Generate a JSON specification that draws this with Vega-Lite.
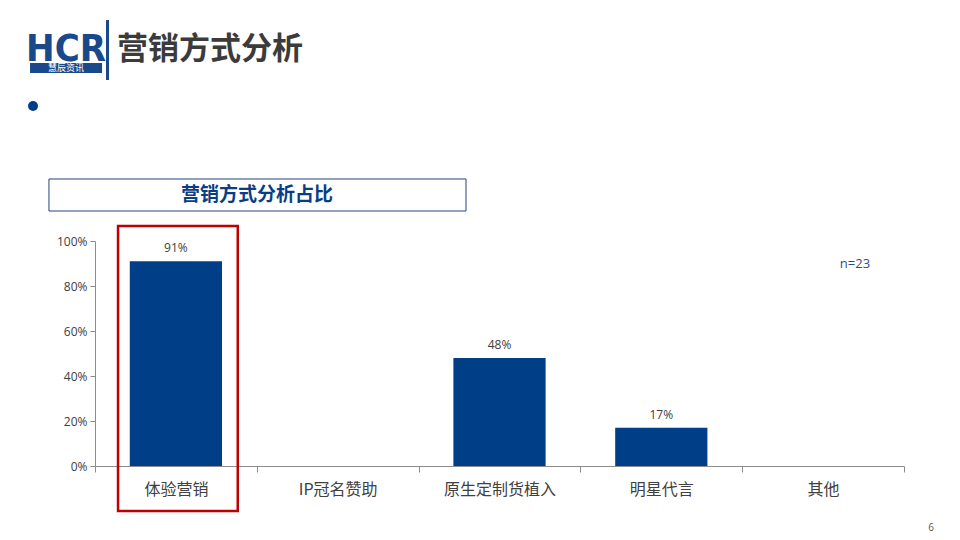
{
  "$schema": "https://vega.github.io/schema/vega-lite/v6.json",
  "width": 809,
  "height": 225,
  "autosize": {"type": "none"},
  "padding": {"left": 95, "top": 241, "right": 56, "bottom": 74},
  "background": "white",
  "config": {"view": {"stroke": null}, "font": "Noto Sans CJK SC"},
  "layer": [
    {
      "data": {
        "values": [
          {"category": "体验营销", "value": 0.91},
          {"category": "IP冠名赞助", "value": 0},
          {"category": "原生定制货植入", "value": 0.48},
          {"category": "明星代言", "value": 0.17},
          {"category": "其他", "value": 0}
        ]
      },
      "layer": [
        {
          "mark": {"type": "bar", "color": "#003F87", "width": {"band": 0.57}},
          "encoding": {
            "x": {
              "field": "category", "type": "nominal",
              "scale": {"domain": ["体验营销", "IP冠名赞助", "原生定制货植入", "明星代言", "其他"], "paddingInner": 0, "paddingOuter": 0},
              "axis": {"title": null, "labelAngle": 0, "labelFontSize": 16, "labelColor": "#404040", "labelPadding": 9, "tickSize": 6, "tickColor": "#8c8c8c", "domainColor": "#8c8c8c", "tickBand": "extent", "labelFont": "Noto Sans CJK SC"}
            },
            "y": {
              "field": "value", "type": "quantitative",
              "scale": {"domain": [0, 1]},
              "axis": {"title": null, "format": ".0%", "values": [0, 0.2, 0.4, 0.6, 0.8, 1], "labelFontSize": 12, "labelColor": "#404040", "labelFont": "Open Sans", "tickSize": 5, "labelPadding": 3, "tickColor": "#8c8c8c", "domainColor": "#8c8c8c", "grid": false}
            }
          }
        },
        {
          "transform": [{"filter": "datum.value > 0"}],
          "mark": {"type": "text", "baseline": "bottom", "dy": -6, "fontSize": 12, "color": "#404040", "font": "Open Sans"},
          "encoding": {
            "x": {"field": "category", "type": "nominal"},
            "y": {"field": "value", "type": "quantitative"},
            "text": {"field": "value", "type": "quantitative", "format": ".0%"}
          }
        },
        {
          "transform": [{"filter": "datum.category == '体验营销'"}],
          "mark": {"type": "bar", "fill": "transparent", "stroke": "#C00000", "strokeWidth": 2.5, "width": {"band": 0.74}, "xOffset": 2},
          "encoding": {
            "x": {"field": "category", "type": "nominal"},
            "y": {"datum": 1.067},
            "y2": {"datum": -0.2}
          }
        }
      ]
    },
    {
      "data": {"values": [{}]},
      "layer": [
        {
          "mark": {"type": "rect", "fill": "white", "stroke": "#24427A", "strokeWidth": 1},
          "encoding": {
            "x": {"datum": -0.0569, "type": "quantitative", "scale": {"domain": [0, 1]}, "axis": null},
            "x2": {"datum": 0.4586},
            "y": {"datum": 1.2756, "type": "quantitative", "scale": {"domain": [0, 1]}, "axis": null},
            "y2": {"datum": 1.1333}
          }
        },
        {
          "mark": {"type": "text", "text": "营销方式分析占比", "fontSize": 19, "fontWeight": "bold", "color": "#0B3D85", "align": "center", "baseline": "middle"},
          "encoding": {
            "x": {"datum": 0.2002, "type": "quantitative", "scale": {"domain": [0, 1]}, "axis": null},
            "y": {"datum": 1.2044, "type": "quantitative", "scale": {"domain": [0, 1]}, "axis": null}
          }
        },
        {
          "mark": {"type": "text", "text": "n=23", "fontSize": 13, "color": "#1F4E99", "font": "Open Sans", "align": "center", "baseline": "middle"},
          "encoding": {
            "x": {"datum": 0.9394, "type": "quantitative", "scale": {"domain": [0, 1]}, "axis": null},
            "y": {"datum": 0.898, "type": "quantitative", "scale": {"domain": [0, 1]}, "axis": null}
          }
        },
        {
          "mark": {"type": "text", "text": "6", "fontSize": 10, "color": "#595959", "font": "Open Sans", "align": "center", "baseline": "middle"},
          "encoding": {
            "x": {"datum": 1.0334, "type": "quantitative", "scale": {"domain": [0, 1]}, "axis": null},
            "y": {"datum": -0.2756, "type": "quantitative", "scale": {"domain": [0, 1]}, "axis": null}
          }
        },
        {
          "mark": {"type": "circle", "size": 100, "color": "#003F87", "opacity": 1},
          "encoding": {
            "x": {"datum": -0.0766, "type": "quantitative", "scale": {"domain": [0, 1]}, "axis": null},
            "y": {"datum": 1.6, "type": "quantitative", "scale": {"domain": [0, 1]}, "axis": null}
          }
        },
        {
          "mark": {"type": "text", "text": "营销方式分析", "fontSize": 31, "fontWeight": "bold", "color": "#3B3B3B", "align": "left", "baseline": "middle"},
          "encoding": {
            "x": {"datum": 0.0272, "type": "quantitative", "scale": {"domain": [0, 1]}, "axis": null},
            "y": {"datum": 1.849, "type": "quantitative", "scale": {"domain": [0, 1]}, "axis": null}
          }
        },
        {
          "mark": {"type": "text", "text": "HCR", "fontSize": 38, "fontWeight": "bold", "font": "Liberation Sans Narrow, DejaVu Sans Condensed, sans-serif", "color": "#19498A", "align": "center", "baseline": "alphabetic"},
          "encoding": {
            "x": {"datum": -0.0358, "type": "quantitative", "scale": {"domain": [0, 1]}, "axis": null},
            "y": {"datum": 1.8, "type": "quantitative", "scale": {"domain": [0, 1]}, "axis": null}
          }
        },
        {
          "mark": {"type": "rect", "fill": "#19498A"},
          "encoding": {
            "x": {"datum": -0.0803, "type": "quantitative", "scale": {"domain": [0, 1]}, "axis": null},
            "x2": {"datum": 0.0087},
            "y": {"datum": 1.791, "type": "quantitative", "scale": {"domain": [0, 1]}, "axis": null},
            "y2": {"datum": 1.7467}
          }
        },
        {
          "mark": {"type": "text", "text": "慧辰资讯", "fontSize": 9, "color": "white", "align": "center", "baseline": "middle"},
          "encoding": {
            "x": {"datum": -0.0358, "type": "quantitative", "scale": {"domain": [0, 1]}, "axis": null},
            "y": {"datum": 1.769, "type": "quantitative", "scale": {"domain": [0, 1]}, "axis": null}
          }
        },
        {
          "mark": {"type": "rect", "fill": "#19498A"},
          "encoding": {
            "x": {"datum": 0.0136, "type": "quantitative", "scale": {"domain": [0, 1]}, "axis": null},
            "x2": {"datum": 0.0173},
            "y": {"datum": 1.982, "type": "quantitative", "scale": {"domain": [0, 1]}, "axis": null},
            "y2": {"datum": 1.7156}
          }
        }
      ]
    }
  ],
  "resolve": {"scale": {"x": "independent", "y": "independent"}}
}
